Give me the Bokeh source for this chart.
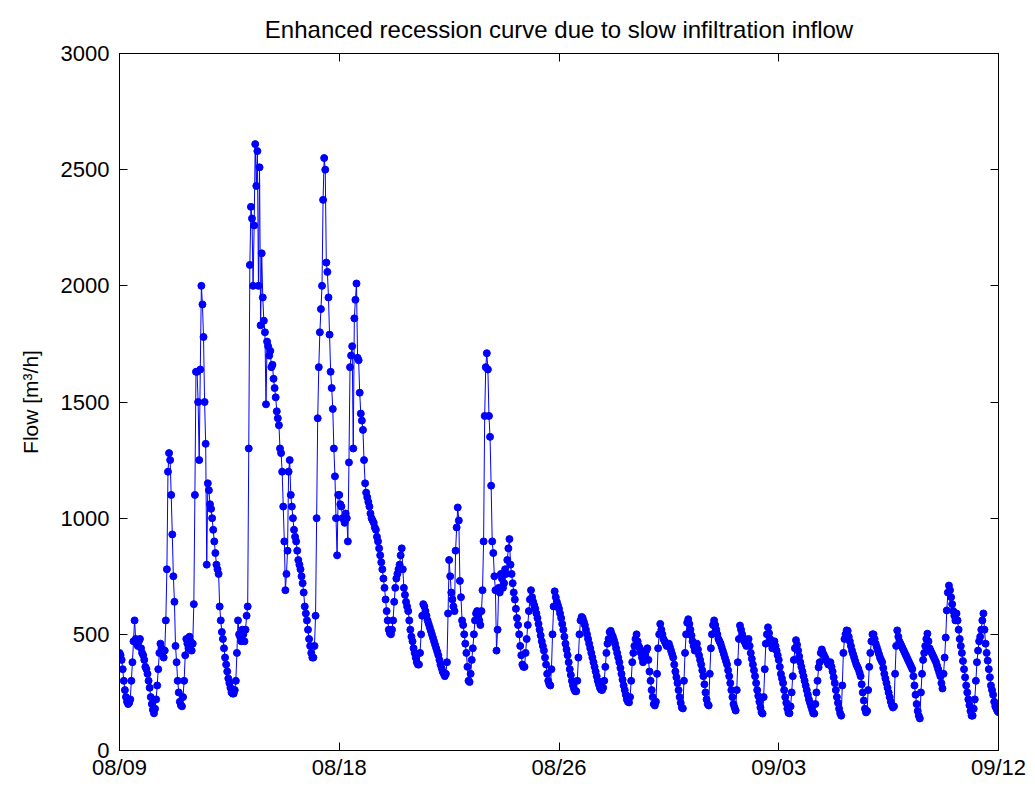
import numpy as np
from bokeh.plotting import figure
from bokeh.models import LinearAxis, FixedTicker, Range1d
from bokeh.embed import file_html
from bokeh.resources import INLINE

# --- data: flow [m3/h], one value per hour starting 08/09 00:00 ---
samples_per_day = 24
flow = [
    # day 0 (08/09)
    420, 410, 390, 350, 300, 260, 230, 210, 200, 205, 220, 300, 380, 470, 560, 480, 460, 450, 470, 480, 440, 420, 410, 390,
    # day 1
    360, 350, 330, 300, 270, 230, 200, 175, 160, 180, 220, 280, 350, 420, 460, 440, 420, 400, 430, 560, 780, 1200, 1280, 1250,
    # day 2
    1100, 930, 750, 640, 450, 380, 300, 250, 210, 195, 190, 230, 300, 410, 480, 460, 440, 490, 470, 430, 460, 630, 1100, 1630,
    # day 3
    1630, 1500, 1250, 1640, 2000, 1920, 1780, 1500, 1320, 800, 1150, 1120, 1060, 1040, 1000, 950, 900, 850, 800, 780, 760, 620, 560, 510,
    # day 4
    480, 440, 400, 370, 340, 310, 290, 270, 250, 245, 245, 260, 300, 420, 560, 500, 490, 470, 520, 500, 470, 520, 580, 620,
    # day 5
    1300, 2090, 2340, 2290, 2000, 2260, 2610, 2430, 2580, 2000, 2510, 1830, 2140, 1950, 1850, 1800, 1490, 1760, 1740, 1700, 1720, 1650, 1660, 1600,
    # day 6
    1560, 1520, 1460, 1430, 1400, 1300, 1280, 1200, 1050, 900, 690, 760, 860, 1200, 1250, 1100, 1050, 1000, 950, 920, 900, 860, 820, 800,
    # day 7
    780, 750, 720, 680, 620, 590, 560, 520, 480, 450, 420, 400, 400, 450, 580, 1000, 1430, 1650, 1800, 1900, 2000, 2370, 2550, 2500,
    # day 8
    2100, 2060, 1950, 1790, 1630, 1560, 1470, 1300, 1180, 1000, 840, 1100, 1100, 1060, 1050, 1000, 1000, 980, 1020, 1000, 900, 1240, 1650, 1700,
    # day 9
    1740, 1300, 1860, 1940, 2010, 1690, 1680, 1540, 1450, 1420, 1380, 1250, 1150, 1110, 1090, 1070, 1050, 1020, 1000, 990, 980, 960, 950, 920,
    # day 10
    900, 870, 840, 810, 780, 740, 700, 650, 600, 560, 520, 505, 500, 520, 560, 640, 700, 740, 760, 780, 800, 840, 870, 780,
    # day 11
    700, 670, 640, 620, 600, 560, 520, 490, 470, 440, 420, 400, 380, 370, 370, 420, 500, 580, 630, 620, 600, 580, 560, 545,
    # day 12
    530, 515, 500, 485, 470, 455, 440, 425, 410, 390, 370, 355, 340, 330, 320, 330, 380, 590, 820, 750, 680, 650, 620, 600,
    # day 13
    860, 960, 1046, 990, 730, 660, 560, 540, 500, 460, 420, 360, 300, 295, 330, 390, 440, 500, 560, 590, 600, 580, 560, 540,
    # day 14
    600, 690, 900, 1440, 1650, 1710, 1640, 1440, 1350, 1140, 900, 850, 750, 690, 430, 520, 700, 680, 760, 740, 700, 720, 780, 760,
    # day 15
    820, 870, 910, 800, 760, 720, 680, 650, 610, 570, 540, 500, 450, 410, 370, 360, 360, 420, 480, 540, 600, 650, 690, 660,
    # day 16
    640, 625, 610, 590, 570, 545, 520, 495, 470, 450, 430, 400, 370, 330, 300, 285, 280, 350, 500, 620, 685, 660, 640, 625,
    # day 17
    610, 590, 570, 545, 520, 490, 460, 435, 410, 380, 350, 325, 300, 280, 265, 255, 255, 300, 400, 500, 560, 575, 570, 555,
    # day 18
    540, 520, 500, 480, 460, 440, 420, 400, 380, 360, 340, 320, 300, 285, 270, 262, 260, 270, 300, 360, 420, 460, 480, 510,
    # day 19
    515, 500, 490, 475, 460, 440, 420, 400, 380, 355, 330, 305, 280, 260, 240, 220, 210, 207, 230, 300, 380, 420, 450, 480,
    # day 20
    500, 470, 450, 440, 420, 400, 380, 390, 410, 430, 440, 390, 340, 300, 260, 230, 200, 194, 210, 330, 440, 500, 545, 520,
    # day 21
    500, 480, 470, 460, 450, 455, 460, 445, 430, 415, 400, 370, 340, 315, 290, 260, 230, 205, 185, 181, 300, 420, 500, 550,
    # day 22
    565, 545, 520, 495, 470, 450, 430, 445, 460, 435, 410, 390, 370, 345, 320, 285, 250, 220, 200, 194, 330, 440, 500, 540,
    # day 23
    560, 540, 520, 500, 480, 470, 460, 445, 430, 415, 400, 385, 370, 345, 320, 290, 260, 230, 200, 185, 172, 260, 380, 480,
    # day 24
    538, 520, 500, 485, 470, 460, 450, 465, 480, 450, 420, 395, 370, 345, 320, 290, 260, 235, 210, 185, 165, 159, 230, 350,
    # day 25
    460, 500, 530, 505, 480, 460, 440, 455, 470, 450, 430, 410, 390, 360, 330, 310, 290, 260, 230, 205, 180, 162, 160, 190,
    # day 26
    250, 320, 390, 440, 475, 455, 430, 405, 380, 360, 340, 320, 300, 280, 260, 240, 220, 205, 190, 175, 160, 159, 200, 250,
    # day 27
    300, 358, 380, 420, 435, 420, 410, 400, 390, 380, 370, 375, 380, 360, 340, 315, 290, 260, 230, 205, 180, 160, 150, 280,
    # day 28
    420, 480, 500, 517, 515, 490, 470, 450, 430, 415, 400, 385, 370, 360, 350, 335, 320, 285, 250, 215, 180, 164, 170, 260,
    # day 29
    360, 420, 470, 500, 500, 480, 460, 445, 430, 415, 400, 390, 380, 355, 330, 310, 290, 270, 250, 230, 210, 195, 185, 190,
    # day 30
    330, 450, 517, 490, 470, 460, 450, 440, 430, 420, 410, 400, 390, 380, 370, 360, 350, 320, 280, 240, 200, 170, 150, 138,
    # day 31
    250, 330, 390, 420, 450, 480, 503, 470, 440, 430, 420, 410, 400, 390, 380, 365, 350, 335, 320, 290, 267, 330, 400, 486,
    # day 32
    603, 680, 710, 690, 660, 630, 600, 580, 560, 590, 560, 520, 480, 450, 420, 385, 350, 315, 280, 250, 220, 195, 170, 150,
    # day 33
    150, 180, 220, 300, 380, 430, 470, 490, 520, 560, 590, 520, 460, 420, 387, 350, 315, 280, 260, 240, 210, 190, 180, 170,
    # 09/12 00:00
    165,
]
x_tick_days = [0, 8.5, 17, 25.5, 34]
x_tick_labels = ["08/09", "08/18", "08/26", "09/03", "09/12"]
y_ticks = [0, 500, 1000, 1500, 2000, 2500, 3000]

days = np.arange(len(flow)) / samples_per_day

FONT = "Liberation Sans"
BLUE = "#0000ff"

p = figure(width=1035, height=787, output_backend="svg", toolbar_location=None,
           x_range=Range1d(0, 34), y_range=Range1d(0, 3000),
           min_border_left=119, min_border_right=37, min_border_top=53, min_border_bottom=37,
           title="Enhanced recession curve due to slow infiltration inflow")
p.title.text_font = FONT
p.title.text_font_size = "24px"
p.title.text_font_style = "normal"
p.title.align = "center"
p.title.text_color = "black"
p.title.standoff = 22

p.xgrid.visible = False
p.ygrid.visible = False
p.outline_line_color = "black"
p.outline_line_width = 1
p.background_fill_color = "white"
p.border_fill_color = "white"

p.line(days, flow, line_color=BLUE, line_width=1)
p.scatter(days, flow, size=7, fill_color=BLUE, line_color=BLUE)

def style_axis(ax, show_labels=True):
    ax.major_tick_in = 8
    ax.major_tick_out = 0
    ax.minor_tick_in = 0
    ax.minor_tick_out = 0
    ax.axis_line_color = "black"
    ax.major_tick_line_color = "black"
    ax.major_label_text_font = FONT
    ax.major_label_text_font_size = "22px"
    ax.major_label_text_color = "black"
    if not show_labels:
        ax.major_label_text_font_size = "0px"
        ax.major_label_text_alpha = 0

xa = p.xaxis[0]
xa.ticker = FixedTicker(ticks=x_tick_days)
xa.major_label_overrides = {t: l for t, l in zip(x_tick_days, x_tick_labels)}
style_axis(xa)
xa.major_label_standoff = 4

ya = p.yaxis[0]
ya.ticker = FixedTicker(ticks=y_ticks)
style_axis(ya)
ya.major_label_standoff = 10
ya.axis_label = "Flow [m³/h]"
ya.axis_label_text_font = FONT
ya.axis_label_text_font_size = "21px"
ya.axis_label_text_font_style = "normal"
ya.axis_label_text_color = "black"
ya.axis_label_standoff = 16

top = LinearAxis(ticker=FixedTicker(ticks=x_tick_days))
style_axis(top, show_labels=False)
p.add_layout(top, "above")
right = LinearAxis(ticker=FixedTicker(ticks=y_ticks))
style_axis(right, show_labels=False)
p.add_layout(right, "right")

open("out.html", "w").write(file_html(p, INLINE))
